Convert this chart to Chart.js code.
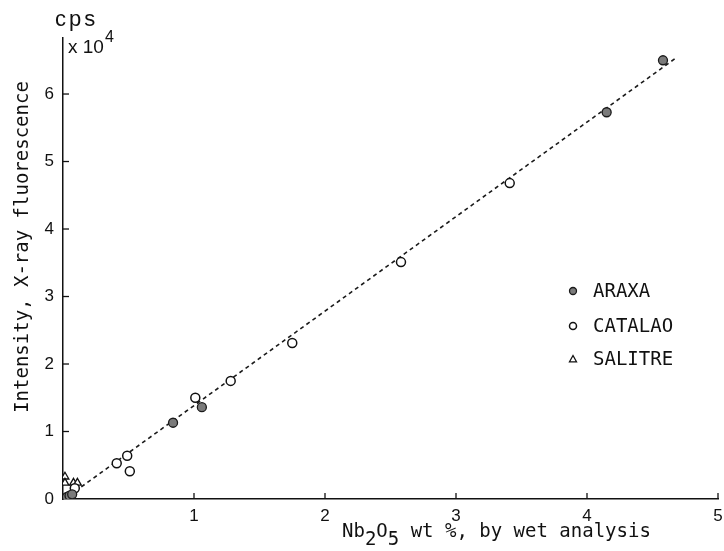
<!DOCTYPE html>
<html>
<head>
<meta charset="utf-8">
<script src="https://cdn.jsdelivr.net/npm/chart.js@4.4.1/dist/chart.umd.min.js"></script>
<style>
  html, body { margin: 0; padding: 0; background: #fff; }
  #wrap { width: 724px; height: 551px; }
</style>
</head>
<body>
<div id="wrap"><canvas id="c" width="724" height="551"></canvas></div>
<script>
// ---- Data (x: Nb2O5 wt %, y: cps x 10^4) ----
const araxaX   = [4.58, 4.15, 1.06, 0.84, 0.03, 0.05, 0.07];
const araxaY   = [6.50, 5.73, 1.36, 1.13, 0.03, 0.05, 0.07];
const catalaoX = [3.41, 2.58, 1.75, 1.28, 1.01, 0.49, 0.41, 0.51, 0.09];
const catalaoY = [4.68, 3.51, 2.31, 1.75, 1.50, 0.64, 0.53, 0.41, 0.16];
const salitreX = [0.015, 0.015, 0.08, 0.11];
const salitreY = [0.33, 0.24, 0.24, 0.24];
const fitX = [0.14, 4.69];
const fitY = [0.18, 6.55];
const seriesNames = ['ARAXA', 'CATALAO', 'SALITRE'];
const xTicks = [0, 1, 2, 3, 4, 5];
const yTicks = [0, 1, 2, 3, 4, 5, 6];
const xTitleParts = [['Nb', 0], ['2', 1], ['O', 0], ['5', 1], [' wt %, by wet analysis', 0]];
const yTitle = 'Intensity, X-ray fluorescence';
const unitTop = 'cps';
const unitMult = 'x 10';
const unitExp = '4';

const pts = (xs, ys) => xs.map((x, i) => ({ x, y: ys[i] }));
const MONO = '"DejaVu Sans Mono", monospace';
const SANS = '"Liberation Sans", Arial, sans-serif';

const decorations = {
  id: 'decorations',
  afterDraw(chart) {
    const ctx = chart.ctx;
    const xs = chart.scales.x, ys = chart.scales.y;
    ctx.save();
    // inward tick marks
    ctx.strokeStyle = '#111';
    ctx.lineWidth = 1.3;
    xTicks.forEach(v => {
      if (v === 0) return;
      const px = xs.getPixelForValue(v);
      ctx.beginPath(); ctx.moveTo(px, ys.bottom); ctx.lineTo(px, ys.bottom - 6); ctx.stroke();
    });
    yTicks.forEach(v => {
      if (v === 0) return;
      const py = ys.getPixelForValue(v);
      ctx.beginPath(); ctx.moveTo(xs.left, py); ctx.lineTo(xs.left + 6, py); ctx.stroke();
    });

    ctx.fillStyle = '#111';
    // y title
    ctx.save();
    ctx.translate(23, 247);
    ctx.rotate(-Math.PI / 2);
    ctx.font = '19px ' + MONO;
    ctx.textAlign = 'center';
    ctx.textBaseline = 'middle';
    ctx.fillText(yTitle, 0, 0);
    ctx.restore();

    // x title with subscripts
    ctx.font = '19px ' + MONO;
    ctx.textAlign = 'left';
    ctx.textBaseline = 'alphabetic';
    let cx = 342;
    xTitleParts.forEach(([t, sub]) => {
      ctx.fillText(t, cx, sub ? 545 : 537);
      cx += ctx.measureText(t).width;
    });

    // unit label
    ctx.font = '22px ' + SANS;
    ctx.letterSpacing = '3px';
    ctx.fillText(unitTop, 55, 26);
    ctx.letterSpacing = '0px';
    ctx.font = '19px ' + SANS;
    ctx.fillText(unitMult, 68, 53);
    const w = ctx.measureText(unitMult).width;
    ctx.font = '16px ' + SANS;
    ctx.fillText(unitExp, 68 + w + 1, 42);

    // legend
    const legendRows = [291, 326, 359];
    ctx.font = '19px ' + MONO;
    ctx.textBaseline = 'middle';
    chart.data.datasets.forEach((ds) => {
      const k = seriesNames.indexOf(ds.label);
      if (k < 0) return;
      const y = legendRows[k];
      ctx.fillStyle = ds.backgroundColor;
      ctx.strokeStyle = ds.borderColor;
      ctx.lineWidth = ds.borderWidth;
      ctx.beginPath();
      if (ds.pointStyle === 'triangle') {
        const r = 3.5;
        ctx.moveTo(573, y - r); ctx.lineTo(573 + r, y + r * 0.8); ctx.lineTo(573 - r, y + r * 0.8); ctx.closePath();
      } else {
        ctx.arc(573, y, 3.5, 0, Math.PI * 2);
      }
      ctx.fill(); ctx.stroke();
      ctx.fillStyle = '#111';
      ctx.fillText(ds.label, 593, y + 1);
    });
    ctx.restore();
  }
};

new Chart(document.getElementById('c'), {
  type: 'scatter',
  data: {
    datasets: [
      { label: seriesNames[0], data: pts(araxaX, araxaY), pointStyle: 'circle', pointRadius: 4.5,
        backgroundColor: '#7b7b7b', borderColor: '#1a1a1a', borderWidth: 1.3, order: 1 },
      { label: seriesNames[1], data: pts(catalaoX, catalaoY), pointStyle: 'circle', pointRadius: 4.5,
        backgroundColor: '#ffffff', borderColor: '#111', borderWidth: 1.5, order: 2 },
      { label: seriesNames[2], data: pts(salitreX, salitreY), pointStyle: 'triangle', pointRadius: 4.5,
        backgroundColor: '#ffffff', borderColor: '#111', borderWidth: 1.3, order: 3 },
      { label: 'fit', type: 'line', data: pts(fitX, fitY), borderColor: '#1a1a1a', borderWidth: 1.6,
        borderDash: [4, 3.5], pointRadius: 0, fill: false, order: 4 }
    ]
  },
  options: {
    responsive: false,
    animation: false,
    events: [],
    layout: { padding: { top: 38, right: 3, left: 0, bottom: 0 } },
    plugins: { legend: { display: false }, tooltip: { enabled: false }, title: { display: false } },
    scales: {
      x: {
        type: 'linear', min: 0, max: 5,
        grid: { display: false, drawTicks: false },
        border: { display: true, color: '#111', width: 1.5 },
        ticks: { stepSize: 1, padding: 7, color: '#111', font: { family: SANS, size: 17 },
                 callback: v => (v === 0 ? '' : String(v)), maxRotation: 0 },
        afterBuildTicks: s => { s.ticks = xTicks.map(v => ({ value: v })); },
        afterFit: s => { s.height = 52; s.paddingLeft = 0; s.paddingRight = 0; }
      },
      y: {
        type: 'linear', min: 0, max: 6.83,
        grid: { display: false, drawTicks: false },
        border: { display: true, color: '#111', width: 1.5 },
        ticks: { stepSize: 1, padding: 9, color: '#111', font: { family: SANS, size: 17 },
                 callback: v => String(v) },
        afterBuildTicks: s => { s.ticks = yTicks.map(v => ({ value: v })); },
        afterFit: s => { s.width = 63; s.paddingTop = 0; s.paddingBottom = 0; }
      }
    }
  },
  plugins: [decorations]
});
</script>
</body>
</html>
